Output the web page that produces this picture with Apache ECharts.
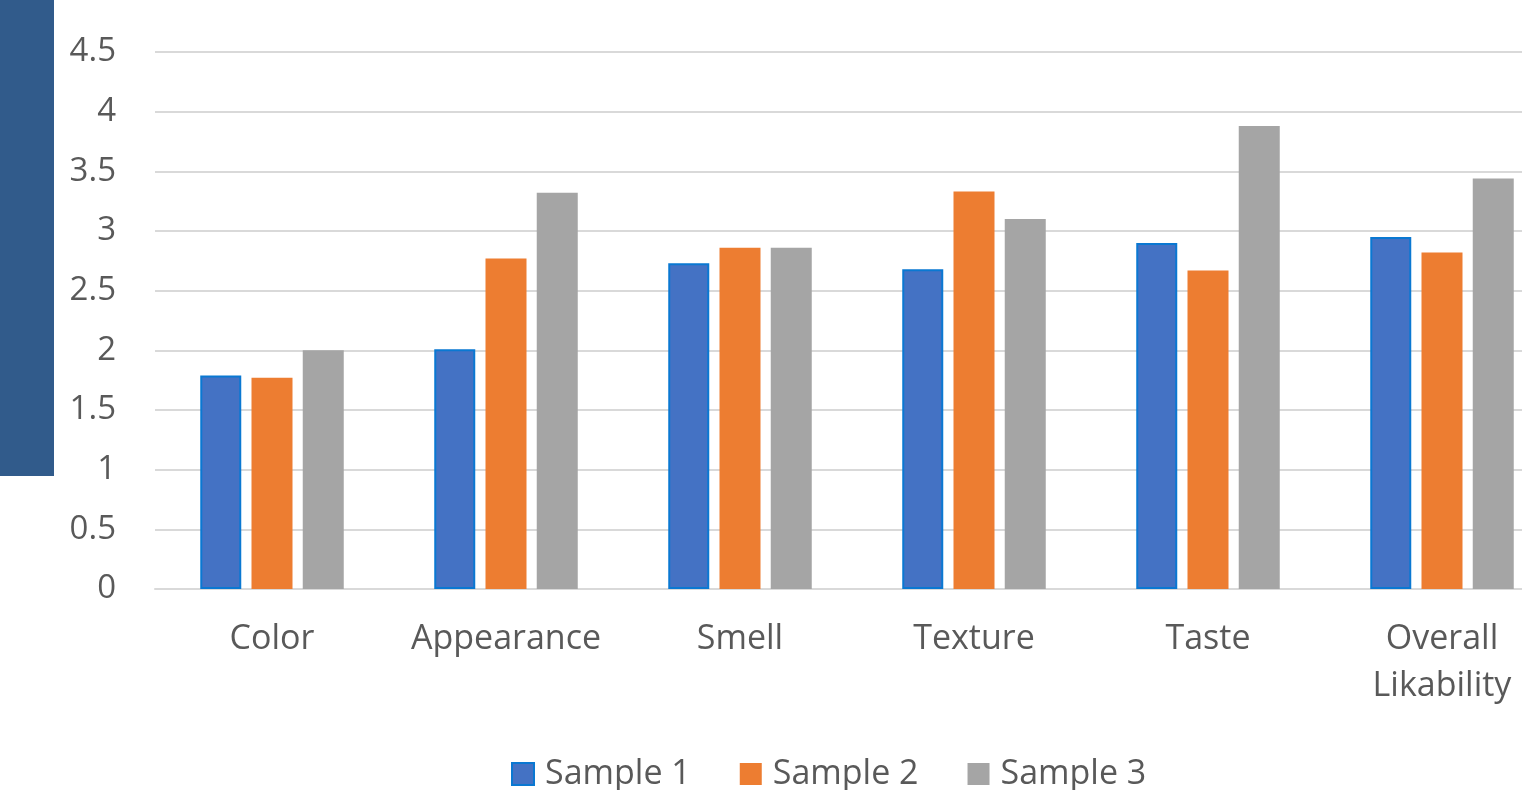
<!DOCTYPE html>
<html>
<head>
<meta charset="utf-8">
<script src="https://cdn.jsdelivr.net/npm/echarts@6/dist/echarts.min.js"></script>
<style>
  html, body { margin: 0; padding: 0; background: #fff; }
  #chart { width: 1522px; height: 790px; }
</style>
</head>
<body>
<div id="chart"></div>
<script>
// Sensory scores per attribute for three samples
const categories = ['Color', 'Appearance', 'Smell', 'Texture', 'Taste', 'Overall\nLikability'];
const sample1 = [1.79, 2.01, 2.73, 2.68, 2.90, 2.95];
const sample2 = [1.77, 2.77, 2.86, 3.33, 2.67, 2.82];
const sample3 = [2.00, 3.32, 2.86, 3.10, 3.88, 3.44];
const seriesNames = ['Sample 1', 'Sample 2', 'Sample 3'];

const font = '"Open Sans", "Noto Sans", sans-serif';
const textColor = '#595959';

const chart = echarts.init(document.getElementById('chart'), null, { renderer: 'canvas' });

chart.setOption({
  animation: false,
  backgroundColor: '#ffffff',
  graphic: [{
    type: 'rect',
    left: 0, top: 0,
    shape: { width: 54, height: 476 },
    style: { fill: '#315B8B' },
    z: 10
  }],
  // plot area runs past the right edge of the canvas
  grid: {
    left: 155, width: 1404, top: 52, height: 537,
    containLabel: false, outerBoundsMode: 'none'
  },
  legend: {
    data: seriesNames,
    left: 506,
    top: 752,
    itemWidth: 22,
    itemHeight: 22,
    itemGap: 49,
    icon: 'rect',
    textStyle: { fontFamily: font, fontSize: 34, color: textColor, padding: [0, 0, 0, 6] }
  },
  xAxis: {
    type: 'category',
    data: categories,
    axisTick: { show: false },
    axisLine: { show: true, lineStyle: { color: '#D9D9D9', width: 2 } },
    axisLabel: {
      fontFamily: font, fontSize: 34, color: textColor,
      margin: 27, lineHeight: 47, interval: 0
    }
  },
  yAxis: {
    type: 'value',
    min: 0, max: 4.5, interval: 0.5,
    axisLine: { show: false },
    axisTick: { show: false },
    splitLine: { lineStyle: { color: '#D9D9D9', width: 2 } },
    axisLabel: { fontFamily: font, fontSize: 33, color: textColor, margin: 39 }
  },
  series: [
    {
      name: seriesNames[0], type: 'bar', data: sample1,
      barWidth: 41, barGap: '25%',
      itemStyle: { color: '#4472C4', borderColor: '#0A78D2', borderWidth: 2 }
    },
    {
      name: seriesNames[1], type: 'bar', data: sample2,
      barWidth: 41, barGap: '25%',
      itemStyle: { color: '#ED7D31' }
    },
    {
      name: seriesNames[2], type: 'bar', data: sample3,
      barWidth: 41, barGap: '25%',
      itemStyle: { color: '#A5A5A5' }
    }
  ]
});
</script>
</body>
</html>
